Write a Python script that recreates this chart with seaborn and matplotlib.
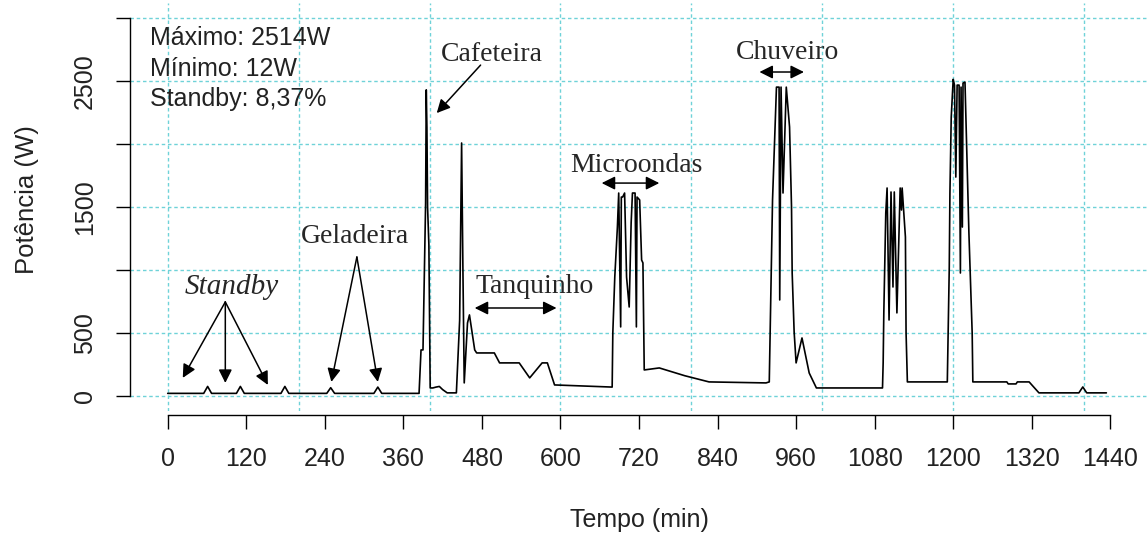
import matplotlib
matplotlib.use("Agg")
import matplotlib.pyplot as plt
import seaborn as sns
import pandas as pd

# ---- data ----
time_min = [0, 55, 61, 67, 105, 111, 117, 173, 179, 185, 243, 249, 255, 315, 321, 327, 384,
            387, 390, 392, 394, 395, 396, 397, 399, 401, 405, 410, 415, 420, 427, 441, 446, 449, 451, 453,
            458, 461, 469, 472, 499, 507, 537, 553, 572, 580, 591, 679,
            680, 683, 687, 689, 692, 693, 695, 698, 701, 705, 708, 710, 714, 716, 717, 721, 724, 726,
            728, 751, 790, 827, 914, 919,
            922, 924, 930, 934, 935, 937, 940, 945, 950, 953, 954, 957, 960, 969, 980, 991, 1092,
            1093, 1094, 1097, 1099, 1102, 1105, 1108, 1110, 1114, 1119, 1121, 1122, 1127, 1128, 1130, 1191,
            1192, 1194, 1195, 1197, 1200, 1202, 1204, 1206, 1209, 1211, 1212, 1214, 1215, 1218, 1220,
            1224, 1229, 1230, 1282, 1284, 1296, 1298, 1316, 1331, 1392, 1398, 1404, 1434]
power_w = [20, 20, 75, 20, 20, 75, 20, 20, 75, 20, 20, 65, 20, 20, 70, 20, 20,
           365, 365, 944, 1530, 2430, 2130, 1500, 1200, 63, 63, 70, 75, 50, 24, 24, 600, 2008, 1000, 103,
           579, 643, 365, 341, 341, 262, 262, 143, 262, 262, 87, 70,
           500, 944, 1341, 1611, 548, 1579, 1579, 1611, 944, 706, 1373, 1611, 1611, 548, 1579, 1556, 1079, 1056,
           206, 222, 160, 111, 103, 111,
           976, 1556, 2452, 2452, 762, 2452, 1611, 2452, 2135, 1500, 976, 508, 262, 460, 182, 63, 63,
           262, 659, 1452, 1651, 603, 1619, 865, 1619, 659, 1651, 1476, 1651, 1262, 500, 111, 111,
           420, 1024, 1611, 2214, 2514, 2468, 1738, 2468, 2468, 976, 2452, 1341, 2484, 2492, 2087,
           1294, 500, 111, 111, 95, 95, 111, 111, 24, 24, 71, 24, 24]

x_ticks = [0, 120, 240, 360, 480, 600, 720, 840, 960, 1080, 1200, 1320, 1440]
y_ticks = [0, 500, 1000, 1500, 2000, 2500, 3000]
y_tick_labels = ["0", "500", "", "1500", "", "2500", ""]
x_grid = [0, 200, 400, 600, 800, 1000, 1200, 1400]
y_grid = [0, 500, 1000, 1500, 2000, 2500, 3000]

stats_lines = ["Máximo: 2514W", "Mínimo: 12W", "Standby: 8,37%"]

# ---- style ----
sns.set_style("white")
plt.rcParams["font.family"] = ["Liberation Sans", "DejaVu Sans"]
SERIF = ["Liberation Serif", "DejaVu Serif"]

fig = plt.figure(figsize=(11.47, 5.35), dpi=100)
ax = fig.add_axes([130 / 1147, 1 - 411 / 535, 1018 / 1147, 408 / 535])

grid_color = "#6fd2d8"
for gx in x_grid:
    ax.axvline(gx, color=grid_color, lw=1.0, ls=(0, (2.5, 2.0)), zorder=0)
for gy in y_grid:
    ax.axhline(gy, color=grid_color, lw=1.0, ls=(0, (2.5, 2.0)), zorder=0)

df = pd.DataFrame({"Tempo (min)": time_min, "Potência (W)": power_w})
sns.lineplot(data=df, x="Tempo (min)", y="Potência (W)", estimator=None, sort=False,
             color="black", lw=1.2, ax=ax, zorder=3)

ax.set_xlim(-57.6, 1497.6)
ax.set_ylim(-120, 3120)

for s in ["top", "right"]:
    ax.spines[s].set_visible(False)
ax.spines["left"].set_bounds(0, 3000)
ax.spines["bottom"].set_bounds(0, 1440)
for s in ["left", "bottom"]:
    ax.spines[s].set_color("black")
    ax.spines[s].set_linewidth(1.0)
ax.spines["bottom"].set_position(("outward", 3))

ax.set_xticks(x_ticks)
ax.set_xticklabels([str(v) for v in x_ticks])
ax.set_yticks(y_ticks)
ax.set_yticklabels(y_tick_labels, rotation=90, va="center", ha="right")
ax.tick_params(axis="both", which="major", direction="out", length=10, width=1.0,
               color="black", labelsize=18, labelcolor="#222222",
               bottom=True, left=True, top=False, right=False)
ax.tick_params(axis="x", pad=13)
ax.tick_params(axis="y", pad=14)

ax.set_xlabel("Tempo (min)", fontsize=18, color="#222222")
ax.set_ylabel("Potência (W)", fontsize=18.5, color="#222222")
ax.xaxis.set_label_coords((639 - 130) / 1018, (411 - 520) / 408)
ax.xaxis.label.set_va("center")
ax.yaxis.set_label_coords((27 - 130) / 1018, (411 - 200) / 408)
ax.yaxis.label.set_va("center")

# stats text
for i, line in enumerate(stats_lines):
    ax.text(-27, 2841 - i * 242, line, fontsize=18, ha="left", va="center", color="#222222")

arrow_kw = dict(arrowstyle="-|>", color="black", lw=1.1, mutation_scale=20, shrinkA=0, shrinkB=0)
darrow_kw = dict(arrowstyle="<|-|>", color="black", lw=1.1, mutation_scale=20, shrinkA=0, shrinkB=0)

# Cafeteira
ax.text(495, 2714, "Cafeteira", family=SERIF, fontsize=20, ha="center", va="center")
ax.annotate("", xy=(411, 2246), xytext=(478, 2627), arrowprops=arrow_kw)

# Geladeira
ax.text(286, 1262, "Geladeira", family=SERIF, fontsize=20, ha="center", va="center")
for tip in [(250, 111), (321, 111)]:
    ax.annotate("", xy=tip, xytext=(289, 1103), arrowprops=arrow_kw)

# Standby
ax.text(98, 865, "Standby", family=SERIF, style="italic", fontsize=21, ha="center", va="center")
for tip in [(23, 143), (88, 103), (153, 87)]:
    ax.annotate("", xy=tip, xytext=(88, 746), arrowprops=arrow_kw)

# Tanquinho
ax.text(560, 865, "Tanquinho", family=SERIF, fontsize=20, ha="center", va="center")
ax.annotate("", xy=(594, 698), xytext=(469, 698), arrowprops=darrow_kw)

# Microondas
ax.text(716, 1833, "Microondas", family=SERIF, fontsize=20, ha="center", va="center")
ax.annotate("", xy=(751, 1690), xytext=(663, 1690), arrowprops=darrow_kw)

# Chuveiro
ax.text(947, 2730, "Chuveiro", family=SERIF, fontsize=20, ha="center", va="center")
ax.annotate("", xy=(972, 2572), xytext=(904, 2572), arrowprops=darrow_kw)

fig.savefig("out.png", dpi=100, facecolor="white")
